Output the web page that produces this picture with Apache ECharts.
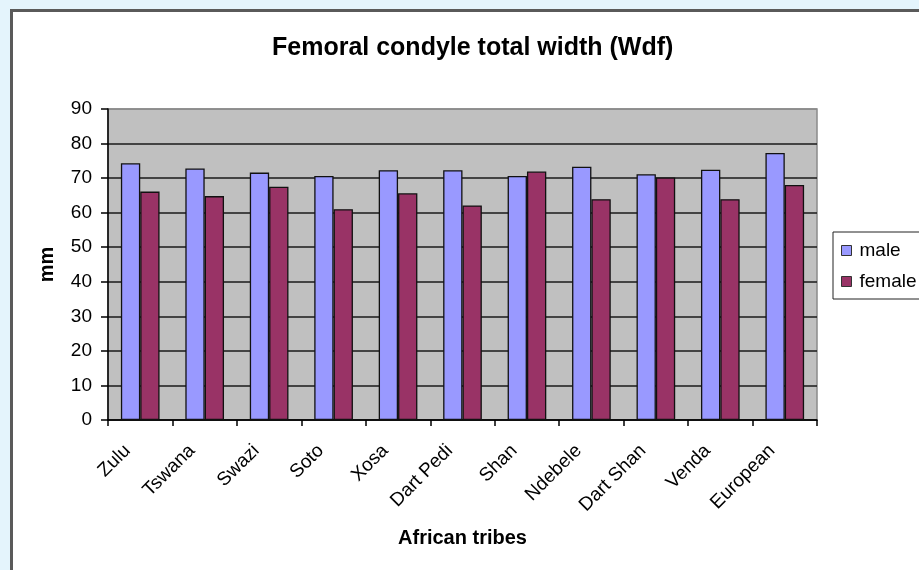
<!DOCTYPE html>
<html>
<head>
<meta charset="utf-8">
<script src="https://cdn.jsdelivr.net/npm/echarts@6/dist/echarts.min.js"></script>
<style>
html,body{margin:0;padding:0;overflow:hidden;background:#e4f4fc;}
#frame{position:absolute;left:10px;top:9px;width:1000px;height:1000px;background:#fff;border-left:3px solid #5a5a5a;border-top:3px solid #5a5a5a;box-sizing:border-box;}
#chart{position:absolute;left:0;top:0;width:919px;height:570px;}
</style>
</head>
<body>
<div id="frame"></div>
<div id="chart"></div>
<script>
const categories = ['Zulu','Tswana','Swazi','Soto','Xosa','Dart Pedi','Shan','Ndebele','Dart Shan','Venda','European'];
const maleValues = [74.3, 72.8, 71.6, 70.6, 72.3, 72.3, 70.6, 73.3, 71.1, 72.4, 77.3];
const femaleValues = [66.1, 64.8, 67.5, 61.0, 65.6, 62.1, 71.9, 63.9, 70.2, 63.9, 68.0];
const yTicks = [0, 10, 20, 30, 40, 50, 60, 70, 80, 90];

const FONT = 'Arial, "Liberation Sans", sans-serif';
const chart = echarts.init(document.getElementById('chart'), null, {renderer: 'canvas'});
chart.setOption({
  backgroundColor: 'transparent',
  animation: false,
  textStyle: {fontFamily: FONT, color: '#000'},
  title: {
    text: 'Femoral condyle total width (Wdf)',
    left: 267, top: 31,
    textStyle: {fontFamily: FONT, fontSize: 25, fontWeight: 'bold', color: '#000'}
  },
  legend: {
    orient: 'vertical',
    left: 833, top: 232,
    padding: [9, 40, 8, 8],
    itemWidth: 10, itemHeight: 10, itemGap: 12,
    borderColor: '#222', borderWidth: 1,
    backgroundColor: '#fff',
    icon: 'rect',
    itemStyle: {borderColor: '#333', borderWidth: 1},
    textStyle: {fontFamily: FONT, fontSize: 19, color: '#000', padding: [0,0,0,3]},
    data: ['male', 'female']
  },
  grid: {
    left: 108, right: 102, top: 109, bottom: 150,
    show: true, backgroundColor: '#c0c0c0', borderColor: '#8a8a8a', borderWidth: 1.5
  },
  xAxis: {
    type: 'category',
    data: categories,
    name: 'African tribes',
    nameLocation: 'middle',
    nameGap: 108,
    nameTextStyle: {fontFamily: FONT, fontSize: 20, fontWeight: 'bold', color: '#000'},
    axisLine: {lineStyle: {color: '#000', width: 1.5}},
    axisTick: {show: true, length: 6, lineStyle: {color: '#000', width: 1.5}},
    axisLabel: {
      interval: 0, rotate: 45, margin: 15,
      fontFamily: FONT, fontSize: 19, color: '#000',
      padding: [0, 18, 0, 0]
    },
    splitLine: {show: false}
  },
  yAxis: {
    type: 'value',
    min: 0, max: 90, interval: 10,
    name: 'mm',
    nameLocation: 'middle',
    nameGap: 51,
    nameTextStyle: {fontFamily: FONT, fontSize: 20, fontWeight: 'bold', color: '#000'},
    axisLine: {show: true, lineStyle: {color: '#000', width: 1.5}},
    axisTick: {show: true, length: 7, lineStyle: {color: '#000', width: 1.5}},
    axisLabel: {
      margin: 16, fontFamily: FONT, fontSize: 19, color: '#000',
      formatter: v => (yTicks.indexOf(v) >= 0 ? String(v) : '')
    },
    splitLine: {
      show: true,
      lineStyle: {color: ['#1a1a1a','#1a1a1a','#1a1a1a','#1a1a1a','#1a1a1a','#1a1a1a','#1a1a1a','#1a1a1a','#1a1a1a','#8a8a8a'], width: 1.6}
    }
  },
  series: [
    {
      name: 'male', type: 'bar', data: maleValues,
      barGap: '0%', barCategoryGap: '40%',
      itemStyle: {color: '#9999ff', borderColor: '#111', borderWidth: 1.3}
    },
    {
      name: 'female', type: 'bar', data: femaleValues,
      barGap: '0%', barCategoryGap: '40%',
      itemStyle: {color: '#993366', borderColor: '#111', borderWidth: 1.3}
    }
  ]
});
</script>
</body>
</html>
